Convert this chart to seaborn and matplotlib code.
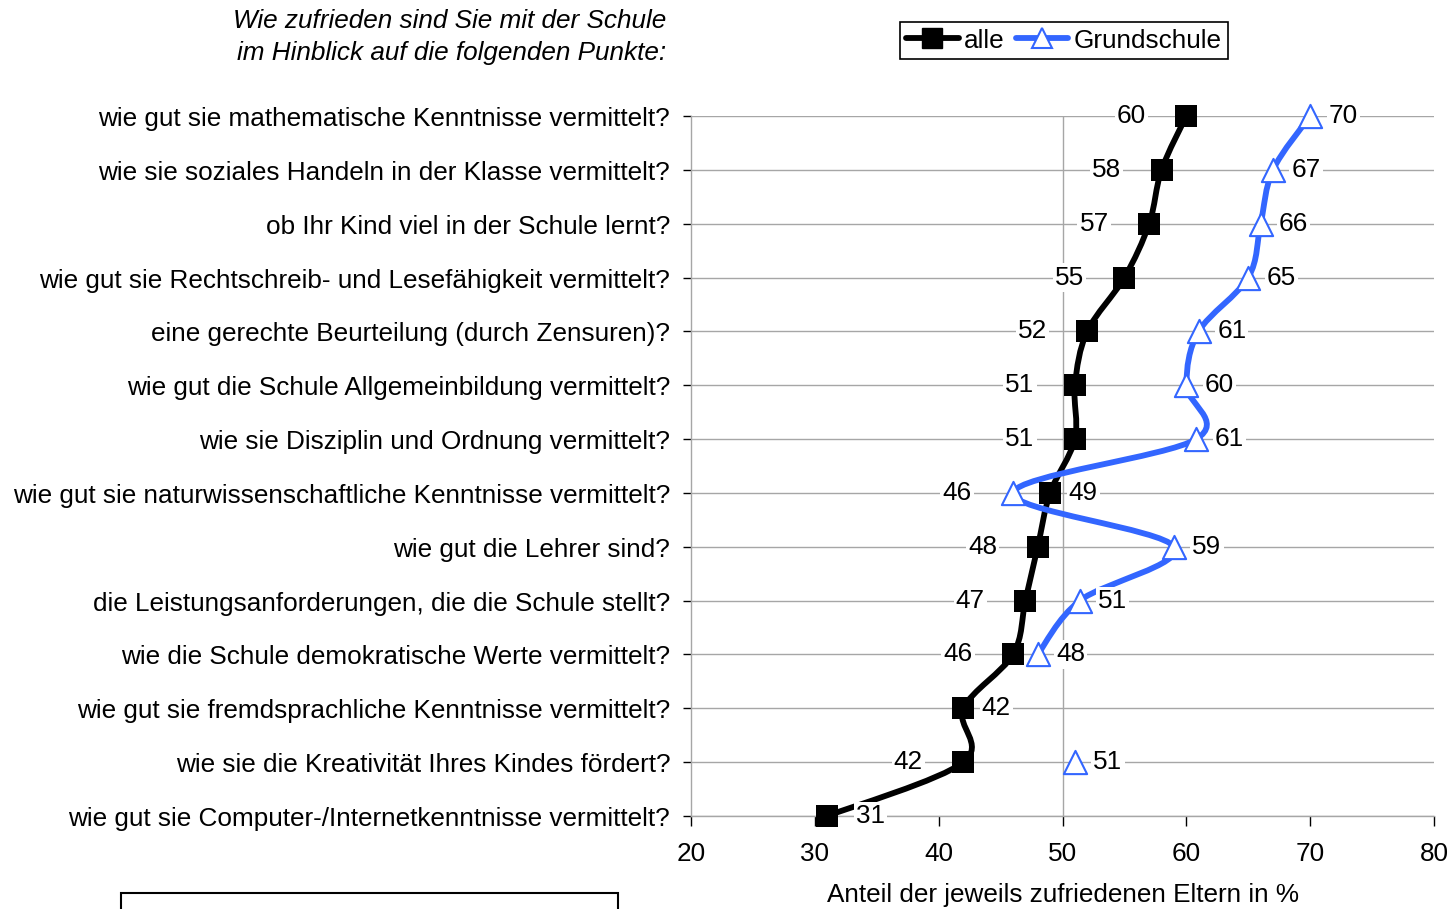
import numpy as np
import matplotlib
matplotlib.use("Agg")
import matplotlib.pyplot as plt
import matplotlib.transforms as mtransforms
from matplotlib.path import Path
from matplotlib.patches import PathPatch, Rectangle
from matplotlib.lines import Line2D
import seaborn as sns
import pandas as pd

categories = [
    "wie gut sie mathematische Kenntnisse vermittelt?",
    "wie sie soziales Handeln in der Klasse vermittelt?",
    "ob Ihr Kind viel in der Schule lernt?",
    "wie gut sie Rechtschreib- und Lesefähigkeit vermittelt?",
    "eine gerechte Beurteilung (durch Zensuren)?",
    "wie gut die Schule Allgemeinbildung vermittelt?",
    "wie sie Disziplin und Ordnung vermittelt?",
    "wie gut sie naturwissenschaftliche Kenntnisse vermittelt?",
    "wie gut die Lehrer sind?",
    "die Leistungsanforderungen, die die Schule stellt?",
    "wie die Schule demokratische Werte vermittelt?",
    "wie gut sie fremdsprachliche Kenntnisse vermittelt?",
    "wie sie die Kreativität Ihres Kindes fördert?",
    "wie gut sie Computer-/Internetkenntnisse vermittelt?",
]
alle = [60, 58, 57, 55, 52, 51, 51, 49, 48, 47, 46, 42, 42, 31]
grundschule = [70, 67, 66, 65, 61, 60, 60.8, 46, 59, 51.4, 48, np.nan, 51, np.nan]

BLUE = "#3366ff"
GRID = "#a6a6a6"

sns.set_theme(style="white")
plt.rcParams["font.family"] = ["Liberation Sans", "DejaVu Sans"]
plt.rcParams.update({"text.color": "black", "axes.labelcolor": "black",
                     "xtick.color": "black", "ytick.color": "black"})
FS = 18.8

df = pd.DataFrame({"cat": range(len(categories)), "alle": alle, "grundschule": grundschule})


def smooth_path(xs, ys):
    # smoothed line like Excel: Catmull-Rom pieces as cubic Bezier
    pts = np.column_stack([xs, ys]).astype(float)
    n = len(pts)
    verts = [pts[0]]
    codes = [Path.MOVETO]
    for i in range(n - 1):
        p0 = pts[max(i - 1, 0)]
        p1 = pts[i]
        p2 = pts[i + 1]
        p3 = pts[min(i + 2, n - 1)]
        verts += [p1 + (p2 - p0) / 6, p2 - (p3 - p1) / 6, p2]
        codes += [Path.CURVE4] * 3
    return Path(verts, codes)


def draw_series(ax, values, color, lw):
    vals = np.asarray(values, dtype=float)
    idx = np.arange(len(vals))
    ok = ~np.isnan(vals)
    runs, cur = [], []
    for i in idx:
        if ok[i]:
            cur.append(i)
        elif cur:
            runs.append(cur)
            cur = []
    if cur:
        runs.append(cur)
    for r in runs:
        if len(r) < 2:
            continue
        ax.add_patch(PathPatch(smooth_path(vals[r], idx[r]), facecolor="none",
                               edgecolor=color, lw=lw, capstyle="round",
                               joinstyle="round", zorder=3, clip_on=False))


fig = plt.figure(figsize=(14.52, 9.09), dpi=100)
ax = fig.add_axes([0.4759, 0.1023, 0.5117, 0.7701])

draw_series(ax, alle, "black", 4.2)
draw_series(ax, grundschule, BLUE, 4.2)

sns.scatterplot(data=df, x="alle", y="cat", marker="s", s=250, color="black",
                edgecolor="black", linewidth=0, ax=ax, zorder=5, clip_on=False)
sns.scatterplot(data=df.dropna(), x="grundschule", y="cat", marker="^", s=280,
                facecolor="white", edgecolor=BLUE, linewidth=1.5, ax=ax,
                zorder=5, clip_on=False)

box = dict(facecolor="white", edgecolor="none", pad=1.5)
right_alle = {7: 33, 11: 33, 13: 43}
for i, v in enumerate(alle):
    dx = right_alle.get(i, -55)
    ax.annotate(f"{v:.0f}", (v, i), xytext=(dx, 0), textcoords="offset pixels",
                ha="center", va="center", fontsize=FS, bbox=box, zorder=6)
for i, v in enumerate(grundschule):
    if np.isnan(v):
        continue
    dx = -56 if i == 7 else 33
    ax.annotate(f"{v:.0f}", (v, i), xytext=(dx, 0), textcoords="offset pixels",
                ha="center", va="center", fontsize=FS, bbox=box, zorder=6)

ax.set_xlim(20, 80)
ax.set_ylim(len(categories) - 1, 0)
ax.set_xticks(range(20, 81, 10))
ax.set_yticks(range(len(categories)))
ax.set_yticklabels(categories, va="center")
ax.set_xlabel("Anteil der jeweils zufriedenen Eltern in %", fontsize=FS, labelpad=12)
ax.set_ylabel("")
ax.tick_params(axis="x", labelsize=FS, length=7, width=1, color="black",
               direction="out", bottom=True, pad=12)
ax.tick_params(axis="y", labelsize=FS, length=6, width=1, color="black",
               direction="out", left=True, pad=9)
shift = mtransforms.ScaledTranslation(0, -3 / 100, fig.dpi_scale_trans)
for t in ax.get_yticklabels():
    t.set_transform(t.get_transform() + shift)
ax.grid(axis="y", color=GRID, lw=1)
ax.grid(axis="x", visible=False)
ax.axvline(50, color=GRID, lw=1, zorder=1)
for s in ["top", "right"]:
    ax.spines[s].set_visible(False)
for s in ["left", "bottom"]:
    ax.spines[s].set_color(GRID)
    ax.spines[s].set_linewidth(1)

fig.text(666 / 1452, 1 - 21 / 909, "Wie zufrieden sind Sie mit der Schule",
         ha="right", va="center", fontsize=FS, style="italic")
fig.text(666 / 1452, 1 - 53 / 909, "im Hinblick auf die folgenden Punkte:",
         ha="right", va="center", fontsize=FS, style="italic")

handles = [
    Line2D([], [], color="black", lw=4.2, marker="s", markersize=14),
    Line2D([], [], color=BLUE, lw=4.2, marker="^", markersize=15,
           markerfacecolor="white", markeredgecolor=BLUE, markeredgewidth=1.5),
]
leg = fig.legend(handles, ["alle", "Grundschule"], loc="center",
                 bbox_to_anchor=(1064 / 1452, 1 - 40.5 / 909), ncol=2,
                 fontsize=FS, frameon=True, fancybox=False, framealpha=1,
                 edgecolor="black", handlelength=2.0, handletextpad=0.2,
                 columnspacing=0.45, borderpad=0.25, borderaxespad=0)
leg.get_frame().set_linewidth(1.2)

fig.patches.append(Rectangle((121 / 1452, -0.02), (618 - 121) / 1452,
                             (909 - 893) / 909 + 0.02, transform=fig.transFigure,
                             fill=False, edgecolor="black", lw=1.5))

fig.savefig("out.png", dpi=100)
